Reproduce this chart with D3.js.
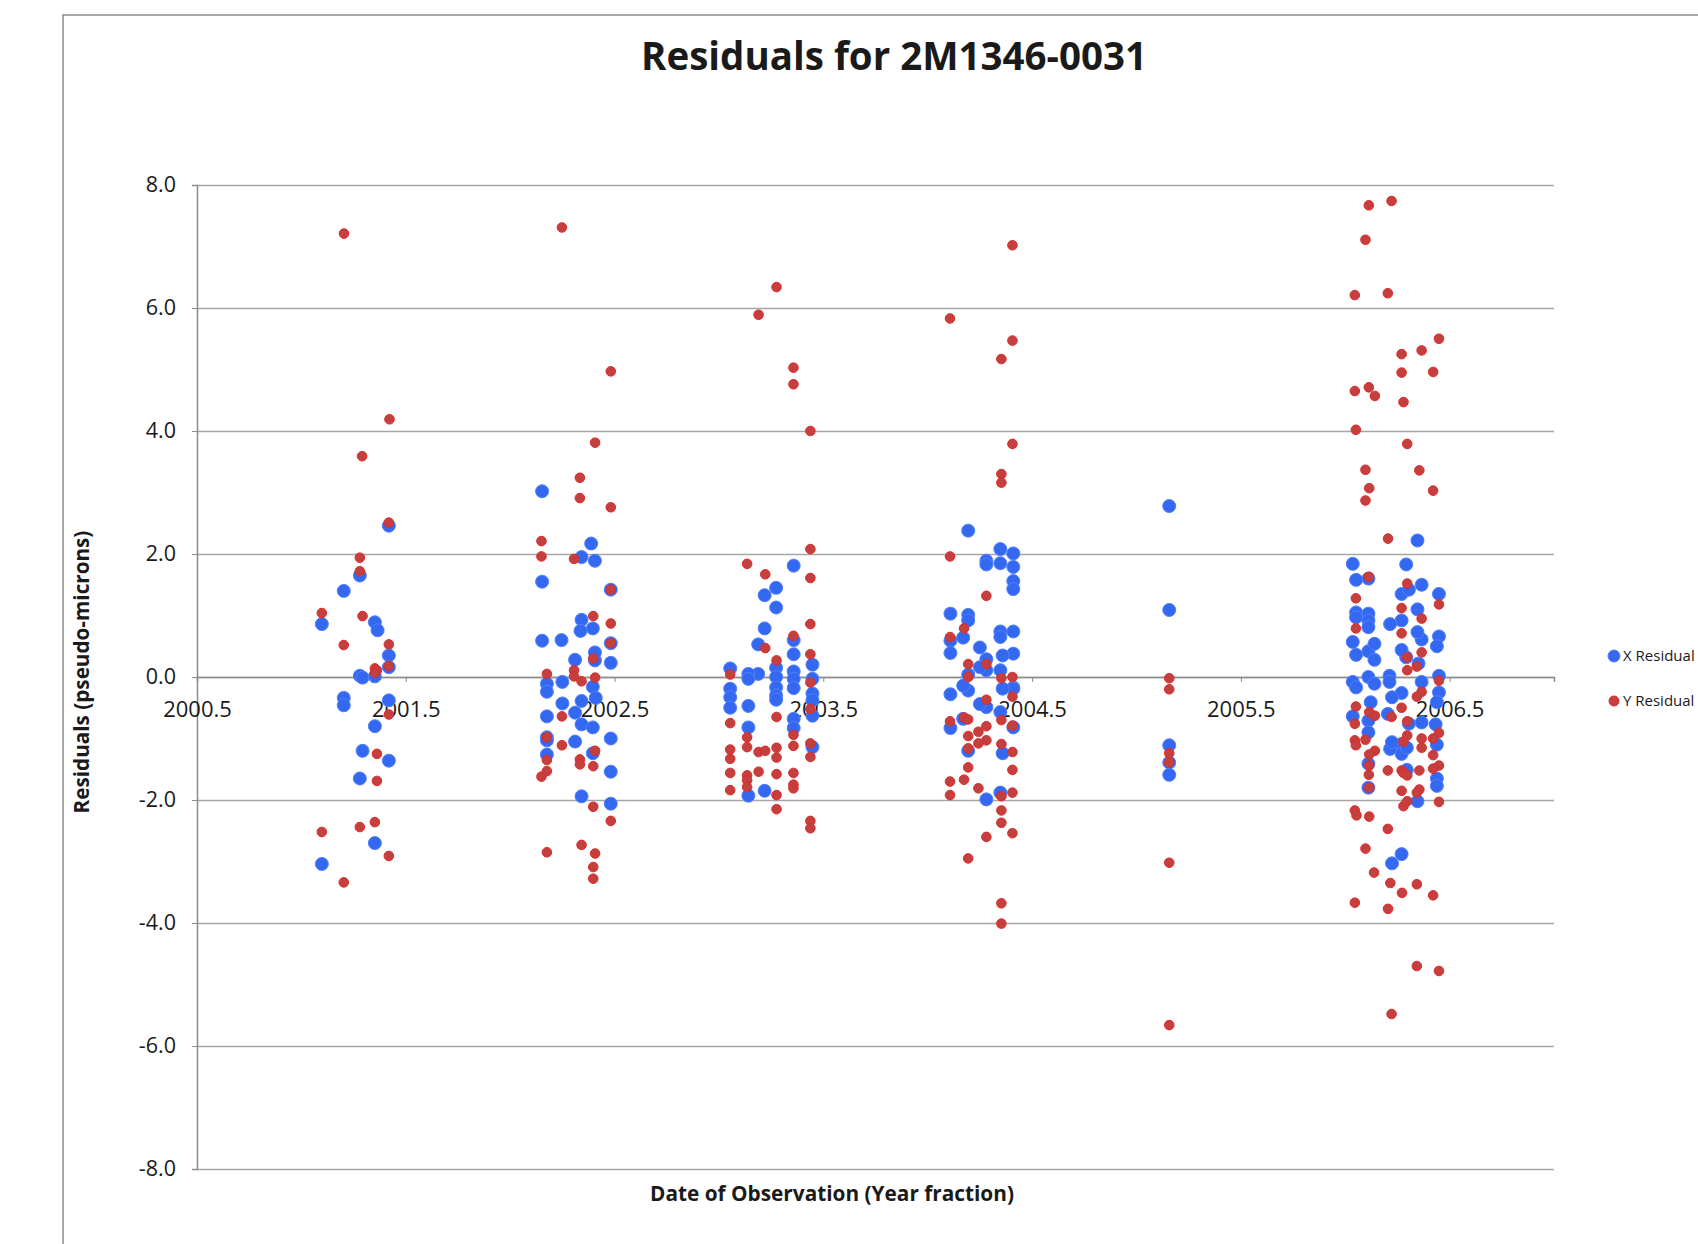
<!DOCTYPE html>
<html>
<head>
<meta charset="utf-8">
<script src="https://cdn.jsdelivr.net/npm/d3@7"></script>
<style>
	body { margin: 0; background: #fff; }
	text { font-family: "Open Sans", "Liberation Sans", sans-serif; fill: #1a1a1a; }
</style>
</head>
<body>
<div id="vis-div"></div>
<script>
'use strict'

// observation dates (year fraction) and residuals
let xResidual = [
	[2001.419, 2.46], [2001.280, 1.65], [2001.203, 1.40], [2001.098, 0.86], [2001.352, 0.89], [2001.365, 0.76],
	[2001.419, 0.35], [2001.419, 0.16], [2001.280, 0.02], [2001.293, -0.01], [2001.352, 0.01], [2001.203, -0.34],
	[2001.203, -0.46], [2001.419, -0.38], [2001.352, -0.80], [2001.293, -1.20], [2001.419, -1.36], [2001.280, -1.65],
	[2001.352, -2.70], [2001.098, -3.04],

	[2002.153, 3.02], [2002.153, 1.55], [2002.153, 0.59], [2002.388, 2.17], [2002.342, 1.95], [2002.342, 0.93],
	[2002.342, -0.39], [2002.342, -0.77], [2002.342, -1.94], [2002.406, 1.89], [2002.406, 0.27], [2002.406, 0.40],
	[2002.482, 1.42], [2002.482, 0.55], [2002.482, 0.23], [2002.482, -1.00], [2002.482, -1.54], [2002.482, -2.06],
	[2002.337, 0.75], [2002.396, 0.79], [2002.396, -0.16], [2002.396, -0.82], [2002.396, -1.24], [2002.246, 0.60],
	[2002.311, 0.28], [2002.311, -0.58], [2002.311, -1.05], [2002.176, -0.11], [2002.176, -0.24], [2002.176, -0.64],
	[2002.176, -0.98], [2002.176, -1.03], [2002.176, -1.26], [2002.250, -0.08], [2002.250, -0.43], [2002.410, -0.34],

	[2003.358, 1.81], [2003.358, 0.60], [2003.358, 0.37], [2003.358, 0.09], [2003.358, -0.03], [2003.358, -0.18],
	[2003.358, -0.68], [2003.358, -0.83], [2003.274, 1.45], [2003.274, 1.13], [2003.274, 0.15], [2003.274, 0.00],
	[2003.274, -0.17], [2003.274, -0.30], [2003.274, -0.37], [2003.219, 1.33], [2003.219, 0.79], [2003.219, -1.85],
	[2003.188, 0.53], [2003.188, 0.05], [2003.448, 0.20], [2003.448, -0.03], [2003.448, -0.27], [2003.448, -0.38],
	[2003.448, -0.63], [2003.448, -1.14], [2003.054, 0.14], [2003.054, -0.19], [2003.054, -0.33], [2003.054, -0.50],
	[2003.141, 0.05], [2003.141, -0.03], [2003.141, -0.47], [2003.141, -0.82], [2003.141, -1.93],

	[2004.194, 2.38], [2004.194, 1.01], [2004.194, 0.92], [2004.194, 0.04], [2004.194, -0.22], [2004.194, -1.20],
	[2004.348, 2.08], [2004.348, 1.85], [2004.348, 0.74], [2004.348, 0.65], [2004.348, 0.11], [2004.348, -0.57],
	[2004.348, -1.88], [2004.410, 2.01], [2004.410, 1.79], [2004.410, 1.56], [2004.410, 1.43], [2004.410, 0.74],
	[2004.410, 0.38], [2004.410, -0.17], [2004.410, -0.19], [2004.410, -0.82], [2004.281, 1.89], [2004.281, 1.83],
	[2004.281, 0.29], [2004.281, 0.11], [2004.281, -0.49], [2004.281, -1.99], [2004.109, 1.03], [2004.109, 0.59],
	[2004.109, 0.39], [2004.109, -0.28], [2004.109, -0.83], [2004.170, 0.64], [2004.170, -0.14], [2004.170, -0.68],
	[2004.250, 0.48], [2004.250, 0.16], [2004.250, -0.44], [2004.359, 0.35], [2004.359, -0.19], [2004.359, -1.24],

	[2005.157, 2.78], [2005.157, 1.09], [2005.157, -1.11], [2005.157, -1.39], [2005.157, -1.59],

	[2006.036, 1.84], [2006.036, 0.57], [2006.036, -0.08], [2006.036, -0.64], [2006.052, 1.58],
	[2006.052, 1.05], [2006.052, 0.97], [2006.052, 0.36], [2006.052, -0.17], [2006.292, 1.83],
	[2006.292, 0.32], [2006.111, 1.60], [2006.111, 1.03], [2006.111, 0.92], [2006.111, 0.81], [2006.111, 0.42],
	[2006.111, 0.00], [2006.111, -0.71], [2006.111, -0.90], [2006.111, -1.41], [2006.111, -1.80], [2006.140, 0.54],
	[2006.140, 0.28], [2006.140, -0.11], [2006.366, 1.50], [2006.366, 0.61], [2006.270, 1.35], [2006.270, 0.92],
	[2006.270, 0.44], [2006.270, -0.26], [2006.270, -1.09], [2006.270, -1.25], [2006.270, -2.88], [2006.305, 1.42],
	[2006.305, -0.76], [2006.449, 1.35], [2006.449, 0.66], [2006.449, 0.02], [2006.449, -0.25], [2006.439, 0.50],
	[2006.439, -0.41], [2006.439, -1.10], [2006.439, -1.65], [2006.439, -1.77], [2006.346, 2.22], [2006.346, 1.10],
	[2006.346, 0.73], [2006.346, -2.02], [2006.351, 0.22], [2006.215, 0.86], [2006.215, -1.17], [2006.212, 0.02],
	[2006.212, -0.08], [2006.204, -0.60], [2006.224, -0.33], [2006.224, -1.06], [2006.224, -3.03], [2006.122, -0.41],
	[2006.366, -0.08], [2006.366, -0.74], [2006.295, -1.15], [2006.295, -1.51], [2006.433, -0.77]
]

let yResidual = [
	[2001.204, 7.21], [2001.422, 4.19], [2001.291, 3.59], [2001.419, 2.51], [2001.280, 1.94], [2001.280, 1.72],
	[2001.098, 1.04], [2001.293, 0.99], [2001.203, 0.52], [2001.419, 0.53], [2001.419, 0.18], [2001.352, 0.14],
	[2001.362, 0.11], [2001.352, 0.07], [2001.419, -0.61], [2001.362, -1.25], [2001.362, -1.69], [2001.098, -2.52],
	[2001.280, -2.44], [2001.352, -2.36], [2001.419, -2.91], [2001.203, -3.34],

	[2002.248, 7.31], [2002.248, -0.64], [2002.248, -1.11], [2002.482, 4.97], [2002.482, 2.76], [2002.482, 1.42],
	[2002.482, 0.87], [2002.482, 0.55], [2002.482, -2.34], [2002.407, 3.81], [2002.407, -0.01], [2002.407, -1.20],
	[2002.407, -2.87], [2002.334, 3.24], [2002.334, 2.91], [2002.334, -1.34], [2002.334, -1.42], [2002.150, 2.21],
	[2002.150, 1.96], [2002.150, -1.62], [2002.306, 1.92], [2002.306, 0.11], [2002.306, 0.01], [2002.398, 0.99],
	[2002.398, 0.30], [2002.398, -1.45], [2002.398, -2.11], [2002.398, -3.09], [2002.398, -3.28], [2002.176, 0.05],
	[2002.176, -0.98], [2002.176, -1.35], [2002.176, -1.53], [2002.176, -2.85], [2002.342, -0.07], [2002.342, -2.73],

	[2003.276, 6.34], [2003.276, 0.27], [2003.276, -0.65], [2003.276, -1.15], [2003.276, -1.31], [2003.276, -1.58],
	[2003.276, -1.92], [2003.276, -2.15], [2003.190, 5.89], [2003.190, -1.22], [2003.190, -1.54], [2003.357, 5.03],
	[2003.357, 4.76], [2003.357, 0.67], [2003.357, -0.94], [2003.357, -1.12], [2003.357, -1.56], [2003.357, -1.75],
	[2003.357, -1.81], [2003.438, 4.00], [2003.438, 2.08], [2003.438, 1.61], [2003.438, 0.86], [2003.438, 0.37],
	[2003.438, -0.09], [2003.438, -0.52], [2003.438, -1.08], [2003.438, -1.30], [2003.438, -2.34], [2003.438, -2.46],
	[2003.135, 1.84], [2003.135, -0.98], [2003.135, -1.14], [2003.135, -1.60], [2003.135, -1.68], [2003.135, -1.79],
	[2003.222, 1.67], [2003.222, 0.47], [2003.222, -1.20], [2003.054, 0.04], [2003.054, -0.75], [2003.054, -1.18],
	[2003.054, -1.33], [2003.054, -1.56], [2003.054, -1.84],

	[2004.406, 7.02], [2004.406, 5.47], [2004.406, 3.79], [2004.406, 0.00], [2004.406, -0.32], [2004.406, -0.79],
	[2004.406, -1.22], [2004.406, -1.51], [2004.406, -1.88], [2004.406, -2.54], [2004.107, 5.83], [2004.107, 1.96],
	[2004.107, 0.65], [2004.107, -0.72], [2004.107, -1.70], [2004.107, -1.92], [2004.353, 5.17], [2004.353, 3.30],
	[2004.353, 3.16], [2004.353, -0.02], [2004.353, -0.70], [2004.353, -1.09], [2004.353, -1.94], [2004.353, -2.17],
	[2004.353, -2.37], [2004.353, -3.68], [2004.353, -4.01], [2004.281, 1.32], [2004.281, 0.21], [2004.281, -0.37],
	[2004.281, -0.80], [2004.281, -1.03], [2004.281, -2.60], [2004.174, 0.79], [2004.174, -0.66], [2004.174, -1.67],
	[2004.194, 0.21], [2004.194, 0.00], [2004.194, -0.69], [2004.194, -0.96], [2004.194, -1.16], [2004.194, -1.47],
	[2004.194, -2.95], [2004.243, -0.89], [2004.243, -1.08], [2004.243, -1.81],

	[2005.157, -0.02], [2005.157, -0.20], [2005.157, -1.24], [2005.157, -1.39], [2005.157, -3.02], [2005.157, -5.66],

	[2006.222, 7.74], [2006.222, -0.65], [2006.222, -5.48], [2006.113, 7.67], [2006.113, 4.71], [2006.113, 1.63],
	[2006.097, 7.11], [2006.097, 3.37], [2006.097, 2.87], [2006.097, -1.02], [2006.097, -2.79], [2006.046, 6.21],
	[2006.046, 4.65], [2006.046, -0.76], [2006.046, -1.03], [2006.046, -2.17], [2006.046, -3.67], [2006.204, 6.24],
	[2006.204, -1.52], [2006.204, -2.47], [2006.449, 5.50], [2006.449, 1.18], [2006.449, -0.06], [2006.449, -0.91],
	[2006.449, -1.44], [2006.449, -2.03], [2006.449, -4.78], [2006.366, 5.31], [2006.366, 0.95], [2006.366, 0.40],
	[2006.366, -0.24], [2006.366, -1.00], [2006.366, -1.15], [2006.270, 5.25], [2006.270, 4.95], [2006.270, 1.12],
	[2006.270, 0.71], [2006.270, -0.50], [2006.270, -1.52], [2006.270, -1.85], [2006.421, 4.96], [2006.421, 3.03],
	[2006.421, -1.00], [2006.421, -1.27], [2006.421, -1.49], [2006.421, -3.55], [2006.142, 4.57], [2006.142, -0.63],
	[2006.142, -1.20], [2006.279, 4.47], [2006.279, -1.05], [2006.279, -1.56], [2006.279, -2.10], [2006.051, 4.02],
	[2006.051, 1.28], [2006.051, 0.79], [2006.051, -0.48], [2006.051, -1.11], [2006.297, 3.79], [2006.297, 1.52],
	[2006.297, 0.32], [2006.297, 0.11], [2006.297, -0.72], [2006.297, -0.95], [2006.297, -1.60], [2006.297, -2.02],
	[2006.355, 3.36], [2006.355, -1.52], [2006.355, -1.83], [2006.115, 3.07], [2006.115, -0.57], [2006.115, -1.26],
	[2006.115, -1.44], [2006.115, -1.80], [2006.115, -2.27], [2006.205, 2.25], [2006.205, -3.77], [2006.343, 0.17],
	[2006.343, -0.32], [2006.343, -1.88], [2006.343, -3.37], [2006.343, -4.70], [2006.054, -2.25], [2006.138, -3.18],
	[2006.216, -3.35], [2006.272, -3.51], [2006.113, -1.59]
]

let xTicks = [2000.5, 2001.5, 2002.5, 2003.5, 2004.5, 2005.5, 2006.5]
let yTicks = [-8, -6, -4, -2, 0, 2, 4, 6, 8]
let xDomain = [2000.5, 2007.0]
let yDomain = [-8, 8]

let seriesNames = ["X Residual", "Y Residual"]
let chartTitle = "Residuals for 2M1346-0031"
let xTitle = "Date of Observation (Year fraction)"
let yTitle = "Residuals (pseudo-microns)"


function renderChart(width, height){
	let plot = {left: 197, right: 1554, top: 185, bottom: 1169}

	let svg = d3.select("#vis-div")
		.append("svg")
		.attr("width", width)
		.attr("height", height)
		.style("display", "block")

	svg.append("rect").attr("width", width).attr("height", height).attr("fill", "#fff")

	// chart area frame (runs off the right and bottom of the picture)
	svg.append("path")
		.attr("d", "M63," + height + "V15H" + width)
		.attr("fill", "none")
		.attr("stroke", "#8c8c8c")
		.attr("stroke-width", 1.5)

	let xScale = d3.scaleLinear().domain(xDomain).range([plot.left, plot.right])
	let yScale = d3.scaleLinear().domain(yDomain).range([plot.bottom, plot.top])

	// gridlines
	let grid = svg.append("g")
		.attr("transform", "translate(" + plot.left + ",0)")
		.call(d3.axisLeft(yScale).tickValues(yTicks).tickSize(-(plot.right - plot.left)).tickFormat(""))
	grid.select(".domain").remove()
	grid.selectAll("line").attr("stroke", "#a6a6a6").attr("stroke-width", 1.5)

	// y axis
	let yAxis = svg.append("g")
		.attr("transform", "translate(" + plot.left + ",0)")
		.call(d3.axisLeft(yScale).tickValues(yTicks).tickSize(5).tickPadding(16)
			.tickFormat(function(d){ return d.toFixed(1) }))
	yAxis.select(".domain").attr("stroke", "#8c8c8c").attr("stroke-width", 1.5)
	yAxis.selectAll("line").attr("stroke", "#8c8c8c")
	yAxis.selectAll("text").style("font-size", "21.5px").attr("fill", "#222")

	// x axis crosses at zero
	let xAxis = svg.append("g")
		.attr("transform", "translate(0," + yScale(0) + ")")
		.call(d3.axisBottom(xScale).tickValues(xTicks).tickSize(5).tickPadding(19)
			.tickFormat(function(d){ return d.toFixed(1) }))
	xAxis.select(".domain").attr("stroke", "#8c8c8c").attr("stroke-width", 1.5)
	xAxis.selectAll("line").attr("stroke", "#8c8c8c")
	xAxis.selectAll("text").style("font-size", "22px").attr("fill", "#222")

	// points, Y series drawn over X series
	svg.append("g").selectAll(".x_pt").data(xResidual).enter().append("circle")
		.attr("class", "x_pt")
		.attr("cx", function(d){ return xScale(d[0]) })
		.attr("cy", function(d){ return yScale(d[1]) })
		.attr("r", 6.5)
		.attr("fill", "#3568f0")
		.attr("stroke", "#4f80ff")
		.attr("stroke-width", 1)

	svg.append("g").selectAll(".y_pt").data(yResidual).enter().append("circle")
		.attr("class", "y_pt")
		.attr("cx", function(d){ return xScale(d[0]) })
		.attr("cy", function(d){ return yScale(d[1]) })
		.attr("r", 4.8)
		.attr("fill", "#c4403f")
		.attr("stroke", "#e02a2a")
		.attr("stroke-width", 1)

	// titles
	svg.append("text")
		.attr("x", 894).attr("y", 70)
		.attr("text-anchor", "middle")
		.style("font-size", "38.5px").style("font-weight", "bold")
		.text(chartTitle)

	svg.append("text")
		.attr("x", 832).attr("y", 1201)
		.attr("text-anchor", "middle")
		.style("font-size", "20.8px").style("font-weight", "bold")
		.text(xTitle)

	svg.append("text")
		.attr("transform", "translate(89,672) rotate(-90)")
		.attr("text-anchor", "middle")
		.style("font-size", "20.7px").style("font-weight", "bold")
		.text(yTitle)

	// legend
	let legend = svg.append("g")
	let legY = [656, 701]
	let legColors = [["#3568f0", "#4f80ff", 6], ["#c4403f", "#e02a2a", 5]]
	seriesNames.forEach(function(name, i){
		legend.append("circle")
			.attr("cx", 1614).attr("cy", legY[i]).attr("r", legColors[i][2])
			.attr("fill", legColors[i][0]).attr("stroke", legColors[i][1])
		legend.append("text")
			.attr("x", 1623).attr("y", legY[i] + 5)
			.style("font-size", "15px")
			.text(name)
	})
}

renderChart(1698, 1244)
</script>
</body>
</html>
